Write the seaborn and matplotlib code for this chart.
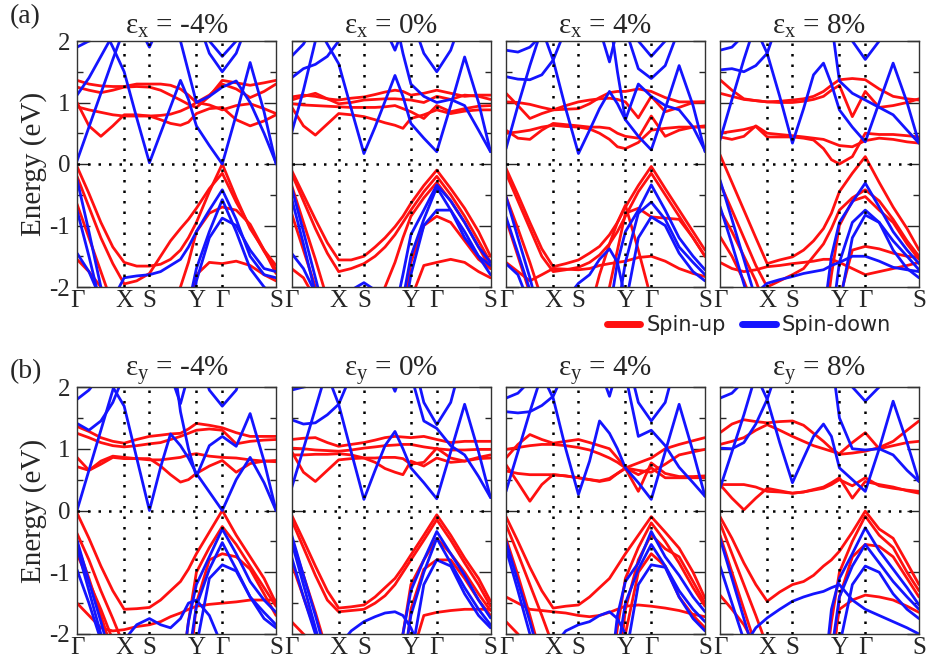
import numpy as np
import pandas as pd
import matplotlib
matplotlib.use("Agg")
import matplotlib.pyplot as plt
import seaborn as sns
from matplotlib.lines import Line2D

# ---------------- data ----------------
K = [0.0, 0.06, 0.12, 0.18, 0.237, 0.30, 0.364, 0.42, 0.47, 0.52, 0.56, 0.60,
     0.665, 0.73, 0.80, 0.87, 0.94, 1.0]
K_TICKS = [0.0, 0.237, 0.364, 0.60, 0.73, 1.0]
K_LABELS = ["Γ", "X", "S", "Y", "Γ", "S"]
STRAIN_A = ["-4%", "0%", "4%", "8%"]
STRAIN_B = ["-4%", "0%", "4%", "8%"]

UP_A1 = [
    [1.36, 1.30, 1.27, 1.26, 1.26, 1.30, 1.30, 1.30, 1.28, 1.22, 1.12, 1.00, 1.12, 1.30, 1.22, 1.08, 1.18, 1.30],
    [1.25, 1.20, 1.16, 1.20, 1.25, 1.26, 1.25, 1.20, 1.12, 1.04, 0.97, 0.92, 1.10, 1.36, 1.32, 1.28, 1.32, 1.36],
    [1.00, 0.62, 0.45, 0.62, 0.80, 0.80, 0.78, 0.72, 0.66, 0.63, 0.68, 0.82, 0.90, 0.92, 0.72, 0.62, 0.70, 0.80],
    [0.93, 0.88, 0.84, 0.80, 0.78, 0.78, 0.78, 0.79, 0.81, 0.86, 0.92, 1.00, 0.96, 0.88, 0.95, 0.98, 0.90, 0.82],
    [-0.04, -0.48, -0.95, -1.35, -1.60, -1.66, -1.66, -1.63, -1.55, -1.40, -1.20, -0.95, -0.45, 0.00, -0.55, -1.05, -1.40, -1.65],
    [-0.20, -0.70, -1.20, -1.62, -1.95, -1.90, -1.78, -1.50, -1.25, -1.05, -0.90, -0.72, -0.40, -0.15, -0.62, -1.02, -1.42, -1.72],
    [-0.65, -1.20, -1.75, -2.30, -2.80, -2.80, -2.80, -2.60, -2.30, -2.00, -1.60, -1.10, -0.80, -0.70, -0.75, -0.98, -1.40, -1.78],
    [-1.55, -1.75, -2.00, -2.40, -2.80, -2.80, -2.80, -2.80, -2.80, -2.80, -2.50, -1.80, -1.60, -1.62, -1.58, -1.65, -1.80, -1.90],
]
DN_A1 = [
    [0.05, 0.60, 1.15, 1.70, 2.20, 2.80, 2.80, 2.80, 2.80, 2.80, 2.80, 2.80, 2.80, 2.80, 2.80, 2.80, 2.80, 2.80],
    [2.80, 2.60, 2.30, 1.90, 1.50, 0.75, 0.02, 0.50, 0.93, 1.36, 1.05, 0.62, 0.30, 0.00, 0.80, 1.65, 0.85, 0.00],
    [1.12, 1.40, 1.75, 2.10, 2.50, 2.80, 2.80, 2.80, 2.50, 2.00, 1.50, 1.00, 1.10, 1.25, 1.35, 1.00, 0.50, 0.02],
    [2.80, 2.80, 2.80, 2.80, 2.80, 2.30, 1.90, 2.30, 2.80, 2.80, 2.80, 2.40, 1.80, 1.50, 1.80, 2.40, 2.80, 2.80],
    [1.90, 2.00, 2.20, 2.50, 2.80, 2.80, 2.80, 2.80, 2.80, 2.80, 2.80, 2.60, 2.00, 1.75, 2.00, 2.60, 2.80, 2.80],
    [-2.80, -2.80, -2.60, -2.20, -1.85, -1.82, -1.80, -1.75, -1.65, -1.55, -1.35, -1.10, -0.75, -0.42, -0.90, -1.50, -1.80, -1.85],
    [-2.80, -2.80, -2.80, -2.80, -2.80, -2.80, -2.80, -2.80, -2.80, -2.60, -2.30, -1.70, -1.10, -0.58, -1.10, -1.70, -2.00, -2.20],
    [-2.80, -2.80, -2.80, -2.80, -2.80, -2.80, -2.80, -2.80, -2.80, -2.80, -2.80, -1.90, -1.20, -0.88, -1.00, -1.40, -1.70, -1.75],
    [-0.25, -1.10, -2.00, -2.80, -2.80, -2.80, -2.80, -2.80, -2.80, -2.80, -2.80, -2.80, -2.80, -2.80, -2.80, -2.80, -2.80, -2.80],
    [-0.75, -1.50, -2.30, -2.80, -2.80, -2.80, -2.80, -2.80, -2.80, -2.80, -2.80, -2.80, -2.80, -2.80, -2.80, -2.80, -2.80, -2.80],
    [-1.45, -1.75, -2.20, -2.80, -2.80, -2.80, -2.80, -2.80, -2.80, -2.80, -2.80, -2.80, -2.80, -2.80, -2.80, -2.80, -2.80, -2.80],
]

UP_A2 = [
    [1.09, 1.12, 1.10, 1.06, 1.04, 1.07, 1.09, 1.13, 1.17, 1.20, 1.18, 1.12, 1.15, 1.20, 1.15, 1.10, 1.12, 1.12],
    [1.04, 1.10, 1.15, 1.06, 0.98, 1.00, 1.04, 1.05, 1.06, 1.06, 1.05, 1.04, 1.00, 1.10, 1.05, 1.12, 1.10, 1.05],
    [0.93, 0.62, 0.47, 0.65, 0.82, 0.80, 0.77, 0.72, 0.67, 0.63, 0.58, 0.74, 0.80, 0.88, 0.82, 0.86, 0.88, 0.88],
    [0.98, 0.96, 0.95, 0.94, 0.93, 0.92, 0.92, 0.92, 0.93, 0.95, 0.90, 0.85, 0.74, 0.95, 0.85, 0.90, 0.94, 0.95],
    [-0.10, -0.50, -0.90, -1.28, -1.56, -1.56, -1.50, -1.35, -1.20, -1.02, -0.85, -0.64, -0.35, -0.10, -0.40, -0.72, -1.10, -1.50],
    [-0.15, -0.60, -1.05, -1.45, -1.75, -1.70, -1.62, -1.50, -1.35, -1.15, -0.95, -0.75, -0.45, -0.20, -0.50, -0.85, -1.25, -1.60],
    [-0.34, -0.95, -1.55, -2.20, -2.80, -2.80, -2.80, -2.50, -2.00, -1.60, -1.20, -0.85, -0.55, -0.30, -0.60, -0.95, -1.35, -1.70],
    [-0.80, -1.40, -2.00, -2.60, -2.80, -2.80, -2.80, -2.80, -2.80, -2.80, -2.50, -1.60, -1.00, -0.85, -0.95, -1.25, -1.55, -1.70],
    [-1.70, -1.85, -2.20, -2.80, -2.80, -2.80, -2.80, -2.80, -2.80, -2.80, -2.80, -2.20, -1.65, -1.60, -1.55, -1.60, -1.75, -1.85],
]
DN_A2 = [
    [0.50, 1.20, 2.00, 2.80, 2.80, 2.80, 2.80, 2.80, 2.80, 2.80, 2.80, 2.80, 2.80, 2.80, 2.80, 2.80, 2.80, 2.80],
    [2.80, 2.60, 2.30, 1.95, 1.63, 0.90, 0.17, 0.60, 1.02, 1.44, 1.10, 0.66, 0.42, 0.20, 0.95, 1.74, 1.00, 0.20],
    [1.40, 1.55, 1.62, 1.75, 2.00, 2.40, 2.80, 2.80, 2.80, 2.40, 1.80, 1.30, 1.10, 1.00, 1.05, 0.95, 0.55, 0.20],
    [2.80, 2.80, 2.80, 2.80, 2.80, 2.80, 2.80, 2.80, 2.80, 2.80, 2.80, 2.40, 1.80, 1.50, 1.85, 2.50, 2.80, 2.80],
    [2.80, 2.80, 2.80, 2.80, 2.80, 2.80, 2.80, 2.80, 2.20, 1.85, 2.20, 2.80, 2.80, 2.80, 2.80, 2.80, 2.80, 2.80],
    [1.75, 1.95, 2.30, 2.80, 2.80, 2.80, 2.80, 2.80, 2.80, 2.80, 2.80, 2.80, 2.80, 2.80, 2.80, 2.80, 2.80, 2.80],
    [-2.80, -2.80, -2.80, -2.80, -2.80, -2.80, -2.80, -2.80, -2.80, -2.40, -1.80, -1.15, -0.75, -0.34, -0.60, -0.95, -1.35, -1.60],
    [-2.80, -2.80, -2.80, -2.80, -2.80, -2.80, -2.80, -2.80, -2.80, -2.80, -2.20, -1.50, -0.90, -0.38, -0.75, -1.20, -1.50, -1.65],
    [-2.80, -2.80, -2.80, -2.80, -2.80, -2.80, -2.80, -2.80, -2.80, -2.80, -2.60, -1.80, -1.00, -0.75, -0.75, -1.10, -1.50, -1.80],
    [-0.37, -1.10, -1.85, -2.60, -2.80, -2.80, -2.80, -2.80, -2.80, -2.80, -2.80, -2.80, -2.80, -2.80, -2.80, -2.80, -2.80, -2.80],
    [-0.55, -1.30, -2.10, -2.80, -2.80, -2.80, -2.80, -2.80, -2.80, -2.80, -2.80, -2.80, -2.80, -2.80, -2.80, -2.80, -2.80, -2.80],
    [-1.45, -1.70, -2.10, -2.80, -2.80, -2.80, -2.80, -2.80, -2.80, -2.80, -2.80, -2.80, -2.80, -2.80, -2.80, -2.80, -2.80, -2.80],
    [-2.80, -2.80, -2.80, -2.80, -2.30, -2.05, -1.93, -2.05, -2.40, -2.80, -2.80, -2.80, -2.80, -2.80, -2.80, -2.80, -2.80, -2.80],
]

UP_A3 = [
    [1.15, 0.95, 0.74, 0.82, 0.88, 0.89, 0.90, 0.98, 1.08, 1.16, 1.18, 1.18, 1.22, 1.18, 1.08, 1.01, 1.01, 1.01],
    [1.01, 1.00, 0.97, 0.92, 0.88, 0.95, 1.01, 1.04, 1.06, 1.07, 1.05, 1.01, 0.75, 1.10, 0.85, 0.92, 1.00, 1.01],
    [0.50, 0.52, 0.55, 0.60, 0.63, 0.61, 0.60, 0.57, 0.50, 0.40, 0.28, 0.25, 0.35, 0.55, 0.58, 0.60, 0.60, 0.60],
    [0.55, 0.42, 0.40, 0.55, 0.66, 0.64, 0.62, 0.60, 0.60, 0.58, 0.50, 0.45, 0.42, 0.78, 0.45, 0.55, 0.60, 0.62],
    [-0.07, -0.50, -0.95, -1.38, -1.67, -1.62, -1.56, -1.45, -1.34, -1.15, -0.95, -0.70, -0.35, -0.04, -0.40, -0.75, -1.10, -1.40],
    [-0.15, -0.60, -1.05, -1.50, -1.75, -1.72, -1.68, -1.60, -1.48, -1.30, -1.10, -0.85, -0.45, -0.15, -0.50, -0.85, -1.20, -1.50],
    [-0.53, -1.05, -1.60, -2.20, -2.80, -2.80, -2.80, -2.40, -1.80, -1.30, -0.95, -0.67, -1.40, -2.20, -2.80, -2.80, -2.80, -2.80],
    [-0.90, -1.50, -2.10, -2.80, -2.80, -2.80, -2.80, -2.80, -2.60, -2.00, -1.40, -0.80, -0.72, -0.86, -0.88, -0.90, -1.20, -1.50],
    [-1.60, -1.75, -1.90, -1.80, -1.70, -1.71, -1.72, -1.70, -1.65, -1.62, -1.60, -1.58, -1.52, -1.50, -1.58, -1.70, -1.78, -1.83],
]
DN_A3 = [
    [0.25, 0.95, 1.60, 2.20, 2.80, 2.80, 2.80, 2.80, 2.80, 2.80, 2.80, 2.80, 2.80, 2.80, 2.80, 2.80, 2.80, 2.80],
    [2.80, 2.80, 2.60, 2.20, 1.69, 0.90, 0.17, 0.55, 0.90, 1.18, 0.98, 0.72, 0.45, 0.23, 0.90, 1.60, 0.95, 0.20],
    [1.42, 1.38, 1.37, 1.45, 1.69, 2.20, 2.80, 2.80, 2.80, 2.80, 2.80, 2.20, 1.55, 1.39, 1.60, 2.20, 2.80, 2.80],
    [2.80, 2.80, 2.80, 2.80, 2.80, 2.80, 2.80, 2.80, 2.80, 2.40, 1.50, 0.72, 1.30, 1.10, 0.95, 0.88, 0.60, 0.22],
    [1.85, 1.82, 1.90, 2.10, 2.40, 2.80, 2.80, 2.80, 2.80, 2.80, 2.80, 2.80, 2.80, 2.80, 2.80, 2.80, 2.80, 2.80],
    [2.80, 2.80, 2.80, 2.80, 2.80, 2.80, 2.80, 2.80, 2.20, 1.66, 2.20, 2.80, 2.80, 2.80, 2.80, 2.80, 2.80, 2.80],
    [2.80, 2.80, 2.80, 2.80, 2.80, 2.80, 2.80, 2.80, 2.80, 2.80, 2.80, 2.80, 2.00, 1.75, 2.00, 2.80, 2.80, 2.80],
    [-2.80, -2.80, -2.80, -2.80, -2.80, -2.80, -2.80, -2.80, -2.80, -2.40, -1.60, -1.10, -0.75, -0.34, -0.75, -1.20, -1.50, -1.72],
    [-2.80, -2.80, -2.80, -2.80, -2.80, -2.80, -2.80, -2.80, -2.80, -2.80, -2.40, -1.60, -0.80, -0.62, -0.90, -1.35, -1.60, -1.80],
    [-2.80, -2.80, -2.80, -2.80, -2.80, -2.80, -2.80, -2.80, -2.80, -2.80, -2.80, -2.30, -1.20, -0.86, -1.00, -1.45, -1.75, -1.90],
    [-0.53, -1.20, -1.85, -2.60, -2.80, -2.80, -2.80, -2.80, -2.80, -2.80, -2.80, -2.80, -2.80, -2.80, -2.80, -2.80, -2.80, -2.80],
    [-0.86, -1.45, -2.05, -2.80, -2.80, -2.80, -2.80, -2.80, -2.80, -2.80, -2.80, -2.80, -2.80, -2.80, -2.80, -2.80, -2.80, -2.80],
    [-1.62, -1.80, -2.30, -2.80, -2.80, -2.20, -1.94, -1.80, -1.55, -1.38, -1.60, -2.20, -2.80, -2.80, -2.80, -2.80, -2.80, -2.80],
]

UP_A4 = [
    [1.37, 1.20, 1.06, 1.03, 1.01, 1.02, 1.04, 1.06, 1.10, 1.18, 1.28, 1.37, 1.39, 1.37, 1.22, 1.10, 1.06, 1.04],
    [1.15, 1.10, 1.05, 1.03, 1.01, 1.00, 1.00, 1.02, 1.05, 1.10, 1.20, 1.28, 0.77, 1.18, 0.92, 0.95, 1.00, 1.06],
    [0.50, 0.53, 0.56, 0.61, 0.44, 0.44, 0.44, 0.42, 0.39, 0.25, 0.07, 0.00, 0.12, 0.50, 0.48, 0.48, 0.46, 0.44],
    [0.44, 0.40, 0.45, 0.62, 0.50, 0.48, 0.46, 0.44, 0.42, 0.40, 0.35, 0.30, 0.28, 0.38, 0.42, 0.40, 0.36, 0.34],
    [0.15, -0.30, -0.75, -1.20, -1.62, -1.56, -1.51, -1.40, -1.25, -1.05, -0.80, -0.45, -0.15, 0.12, -0.30, -0.70, -1.05, -1.40],
    [-0.31, -0.75, -1.20, -1.65, -2.00, -1.90, -1.80, -1.70, -1.50, -1.30, -1.05, -0.75, -0.55, -0.42, -0.60, -0.90, -1.25, -1.50],
    [-0.75, -1.10, -1.50, -1.90, -2.40, -2.80, -2.80, -2.80, -2.80, -2.80, -1.80, -1.00, -0.60, -0.53, -0.75, -0.95, -1.30, -1.55],
    [-1.18, -1.50, -1.90, -2.40, -2.80, -2.80, -2.80, -2.80, -2.80, -2.80, -2.80, -2.20, -1.40, -1.34, -1.38, -1.45, -1.50, -1.52],
    [-1.60, -1.70, -1.75, -1.72, -1.67, -1.65, -1.62, -1.60, -1.58, -1.55, -1.55, -1.60, -1.70, -1.80, -1.75, -1.70, -1.65, -1.60],
]
DN_A4 = [
    [0.39, 1.05, 1.70, 2.30, 2.80, 2.80, 2.80, 2.80, 2.80, 2.80, 2.80, 2.80, 2.80, 2.80, 2.80, 2.80, 2.80, 2.80],
    [2.80, 2.80, 2.60, 2.20, 1.80, 1.10, 0.34, 0.90, 1.45, 1.64, 1.30, 0.88, 0.60, 0.36, 1.00, 1.64, 1.00, 0.34],
    [1.53, 1.55, 1.50, 1.60, 1.80, 2.40, 2.80, 2.80, 2.80, 2.80, 2.30, 1.35, 1.15, 1.04, 0.92, 0.80, 0.55, 0.34],
    [1.85, 1.90, 2.10, 2.40, 2.80, 2.80, 2.80, 2.80, 2.80, 2.80, 2.80, 2.80, 2.80, 2.80, 2.80, 2.80, 2.80, 2.80],
    [2.80, 2.80, 2.80, 2.80, 2.80, 2.80, 2.80, 2.80, 2.80, 2.80, 2.80, 2.80, 2.00, 1.70, 2.00, 2.80, 2.80, 2.80],
    [-2.80, -2.80, -2.80, -2.80, -2.80, -2.80, -2.80, -2.80, -2.80, -2.50, -1.50, -0.95, -0.62, -0.31, -0.70, -1.10, -1.40, -1.62],
    [-2.80, -2.80, -2.80, -2.80, -2.80, -2.80, -2.80, -2.80, -2.80, -2.80, -2.60, -1.60, -0.95, -0.75, -0.95, -1.25, -1.50, -1.72],
    [-2.80, -2.80, -2.80, -2.80, -2.80, -2.80, -2.80, -2.80, -2.80, -2.80, -2.80, -2.30, -1.20, -0.83, -0.95, -1.40, -1.70, -1.85],
    [-0.26, -0.90, -1.55, -2.20, -2.80, -2.80, -2.80, -2.80, -2.80, -2.80, -2.80, -2.80, -2.80, -2.80, -2.80, -2.80, -2.80, -2.80],
    [-0.69, -1.30, -1.95, -2.60, -2.80, -2.80, -2.80, -2.80, -2.80, -2.80, -2.80, -2.80, -2.80, -2.80, -2.80, -2.80, -2.80, -2.80],
    [-2.80, -2.80, -2.40, -2.10, -1.94, -1.88, -1.83, -1.78, -1.75, -1.72, -1.65, -1.60, -1.50, -1.50, -1.58, -1.68, -1.72, -1.75],
]

UP_B1 = [
    [1.36, 1.28, 1.18, 1.12, 1.09, 1.15, 1.20, 1.22, 1.24, 1.25, 1.32, 1.41, 1.38, 1.34, 1.26, 1.20, 1.20, 1.20],
    [1.25, 1.18, 1.10, 1.05, 1.03, 1.05, 1.08, 1.10, 1.15, 1.20, 1.25, 1.30, 1.32, 1.30, 1.08, 1.12, 1.14, 1.15],
    [0.86, 0.65, 0.75, 0.86, 0.84, 0.84, 0.84, 0.72, 0.58, 0.46, 0.50, 0.60, 0.72, 0.81, 0.62, 0.76, 0.80, 0.81],
    [0.71, 0.65, 0.80, 0.88, 0.86, 0.84, 0.82, 0.82, 0.84, 0.86, 0.90, 0.92, 0.88, 0.86, 0.85, 0.82, 0.80, 0.79],
    [-0.04, -0.45, -0.90, -1.30, -1.60, -1.59, -1.57, -1.45, -1.30, -1.15, -0.95, -0.70, -0.35, 0.00, -0.40, -0.75, -1.10, -1.50],
    [-0.37, -0.80, -1.30, -1.75, -2.20, -2.80, -2.80, -2.80, -2.80, -2.80, -1.80, -1.00, -0.60, -0.26, -0.55, -0.90, -1.25, -1.55],
    [-0.70, -1.15, -1.60, -2.10, -2.80, -2.80, -2.80, -2.80, -2.80, -2.80, -2.80, -1.50, -0.80, -0.70, -0.75, -0.95, -1.35, -1.70],
    [-1.50, -1.70, -1.90, -1.95, -1.93, -1.88, -1.85, -1.80, -1.72, -1.66, -1.60, -1.55, -1.52, -1.50, -1.48, -1.45, -1.45, -1.45],
    [-0.55, -1.10, -1.70, -2.30, -2.80, -2.80, -2.80, -2.80, -2.80, -2.80, -2.80, -2.80, -2.80, -2.80, -2.80, -2.80, -2.80, -2.80],
]
DN_B1 = [
    [0.00, 0.65, 1.30, 1.95, 2.60, 2.80, 2.80, 2.80, 2.80, 2.80, 2.80, 2.80, 2.80, 2.80, 2.80, 2.80, 2.80, 2.80],
    [2.80, 2.70, 2.40, 2.00, 1.69, 0.85, 0.00, 0.70, 1.24, 1.05, 0.85, 0.60, 0.30, 0.00, 0.50, 0.86, 0.45, 0.00],
    [1.41, 1.30, 1.45, 1.75, 2.20, 2.80, 2.80, 2.80, 2.80, 1.60, 1.00, 0.55, 1.05, 1.20, 1.04, 1.57, 0.80, 0.00],
    [2.80, 2.80, 2.80, 2.80, 2.80, 2.80, 2.80, 2.80, 2.20, 1.73, 2.20, 2.80, 2.80, 2.80, 2.80, 2.80, 2.80, 2.80],
    [2.80, 2.80, 2.80, 2.80, 2.80, 2.80, 2.80, 2.80, 2.80, 2.80, 2.80, 2.60, 1.95, 1.69, 1.95, 2.60, 2.80, 2.80],
    [1.80, 1.95, 2.20, 2.60, 2.80, 2.80, 2.80, 2.80, 2.80, 2.80, 2.80, 2.80, 2.80, 2.80, 2.80, 2.80, 2.80, 2.80],
    [-2.80, -2.80, -2.80, -2.80, -2.80, -2.80, -2.80, -2.80, -2.80, -2.80, -1.80, -1.20, -0.75, -0.30, -0.70, -1.15, -1.45, -1.65],
    [-2.80, -2.80, -2.80, -2.80, -2.80, -2.80, -2.80, -2.80, -2.80, -2.80, -2.40, -1.55, -0.95, -0.52, -0.95, -1.40, -1.65, -1.85],
    [-2.80, -2.80, -2.80, -2.80, -2.80, -2.80, -2.80, -2.80, -2.80, -2.80, -2.80, -2.20, -1.10, -0.88, -0.98, -1.40, -1.75, -1.90],
    [-0.48, -1.15, -1.80, -2.50, -2.80, -2.80, -2.80, -2.80, -2.80, -2.80, -2.80, -2.80, -2.80, -2.80, -2.80, -2.80, -2.80, -2.80],
    [-0.60, -1.30, -2.00, -2.80, -2.80, -2.80, -2.80, -2.80, -2.80, -2.80, -2.80, -2.80, -2.80, -2.80, -2.80, -2.80, -2.80, -2.80],
    [-0.96, -1.50, -2.10, -2.80, -2.80, -2.80, -2.80, -2.80, -2.80, -2.80, -2.80, -2.80, -2.80, -2.80, -2.80, -2.80, -2.80, -2.80],
    [-2.80, -2.80, -2.80, -2.50, -2.10, -1.85, -1.75, -1.85, -1.90, -1.75, -1.50, -1.45, -1.70, -2.20, -2.80, -2.80, -2.80, -2.80],
]

UP_B2 = [
    [1.15, 1.17, 1.18, 1.10, 1.04, 1.07, 1.10, 1.14, 1.18, 1.20, 1.19, 1.18, 1.20, 1.15, 1.10, 1.12, 1.12, 1.12],
    [1.01, 1.00, 0.98, 0.97, 0.96, 0.98, 1.01, 1.03, 1.05, 1.06, 1.07, 1.07, 1.03, 1.00, 0.98, 0.98, 0.99, 0.99],
    [0.96, 0.62, 0.47, 0.65, 0.82, 0.84, 0.85, 0.78, 0.68, 0.62, 0.58, 0.80, 0.72, 0.85, 0.78, 0.80, 0.84, 0.85],
    [0.90, 0.90, 0.91, 0.91, 0.92, 0.90, 0.85, 0.85, 0.86, 0.86, 0.84, 0.75, 0.78, 1.01, 0.85, 0.80, 0.86, 0.90],
    [-0.07, -0.48, -0.90, -1.30, -1.58, -1.56, -1.53, -1.40, -1.25, -1.10, -0.92, -0.72, -0.40, -0.07, -0.40, -0.77, -1.10, -1.47],
    [-0.15, -0.60, -1.05, -1.45, -1.64, -1.62, -1.60, -1.50, -1.38, -1.20, -1.00, -0.80, -0.48, -0.15, -0.48, -0.85, -1.20, -1.55],
    [-0.45, -1.05, -1.65, -2.30, -2.80, -2.80, -2.80, -2.80, -2.80, -2.80, -2.00, -1.20, -0.80, -0.45, -0.70, -1.00, -1.35, -1.62],
    [-0.85, -1.40, -1.95, -2.60, -2.80, -2.80, -2.80, -2.80, -2.80, -2.80, -2.80, -1.60, -0.95, -0.80, -0.80, -1.10, -1.45, -1.70],
    [-1.80, -2.00, -2.30, -2.80, -2.80, -2.80, -2.80, -2.80, -2.80, -2.80, -2.80, -2.40, -1.70, -1.65, -1.62, -1.60, -1.60, -1.60],
]
DN_B2 = [
    [0.36, 1.00, 1.65, 2.30, 2.80, 2.80, 2.80, 2.80, 2.80, 2.80, 2.80, 2.80, 2.80, 2.80, 2.80, 2.80, 2.80, 2.80],
    [2.80, 2.80, 2.60, 2.20, 1.72, 0.95, 0.18, 0.65, 1.05, 1.28, 1.00, 0.69, 0.45, 0.19, 0.95, 1.72, 0.95, 0.21],
    [1.47, 1.40, 1.42, 1.55, 1.72, 2.20, 2.80, 2.80, 2.80, 2.80, 2.80, 2.20, 1.45, 1.33, 1.05, 0.90, 0.55, 0.21],
    [1.95, 2.00, 2.20, 2.60, 2.80, 2.80, 2.80, 2.80, 2.80, 2.80, 2.80, 2.80, 2.80, 2.80, 2.80, 2.80, 2.80, 2.80],
    [2.80, 2.80, 2.80, 2.80, 2.80, 2.80, 2.80, 2.80, 2.30, 1.93, 2.30, 2.80, 2.80, 2.80, 2.80, 2.80, 2.80, 2.80],
    [2.80, 2.80, 2.80, 2.80, 2.80, 2.80, 2.80, 2.80, 2.80, 2.80, 2.80, 2.60, 1.75, 1.39, 1.75, 2.60, 2.80, 2.80],
    [-2.80, -2.80, -2.80, -2.80, -2.80, -2.80, -2.80, -2.80, -2.80, -2.80, -2.00, -1.30, -0.80, -0.34, -0.70, -1.05, -1.45, -1.74],
    [-2.80, -2.80, -2.80, -2.80, -2.80, -2.80, -2.80, -2.80, -2.80, -2.80, -2.50, -1.70, -1.00, -0.45, -0.85, -1.25, -1.60, -1.85],
    [-2.80, -2.80, -2.80, -2.80, -2.80, -2.80, -2.80, -2.80, -2.80, -2.80, -2.80, -2.40, -1.20, -0.80, -0.90, -1.35, -1.70, -1.90],
    [-0.39, -1.05, -1.70, -2.40, -2.80, -2.80, -2.80, -2.80, -2.80, -2.80, -2.80, -2.80, -2.80, -2.80, -2.80, -2.80, -2.80, -2.80],
    [-0.50, -1.20, -1.90, -2.60, -2.80, -2.80, -2.80, -2.80, -2.80, -2.80, -2.80, -2.80, -2.80, -2.80, -2.80, -2.80, -2.80, -2.80],
    [-0.75, -1.40, -2.00, -2.80, -2.80, -2.80, -2.80, -2.80, -2.80, -2.80, -2.80, -2.80, -2.80, -2.80, -2.80, -2.80, -2.80, -2.80],
    [-2.80, -2.80, -2.80, -2.80, -2.20, -1.95, -1.80, -1.72, -1.66, -1.64, -1.70, -1.90, -2.40, -2.80, -2.80, -2.80, -2.80, -2.80],
]

UP_B3 = [
    [0.85, 1.07, 1.23, 1.15, 1.09, 1.12, 1.15, 1.10, 1.05, 1.00, 0.85, 0.69, 0.77, 0.85, 1.00, 1.07, 1.13, 1.18],
    [0.99, 1.02, 1.05, 1.07, 1.07, 1.05, 1.02, 0.98, 0.92, 0.85, 0.78, 0.69, 0.65, 0.62, 0.75, 0.90, 0.95, 0.99],
    [0.74, 0.45, 0.15, 0.42, 0.58, 0.56, 0.53, 0.50, 0.47, 0.50, 0.60, 0.69, 0.58, 0.69, 0.53, 0.53, 0.53, 0.53],
    [0.64, 0.60, 0.58, 0.58, 0.58, 0.56, 0.53, 0.50, 0.48, 0.52, 0.60, 0.68, 0.31, 0.77, 0.60, 0.55, 0.55, 0.56],
    [-0.10, -0.50, -0.92, -1.30, -1.58, -1.55, -1.53, -1.40, -1.25, -1.10, -0.90, -0.70, -0.40, -0.10, -0.35, -0.61, -1.00, -1.42],
    [-0.23, -0.70, -1.20, -1.70, -2.20, -2.80, -2.80, -2.80, -2.80, -2.80, -1.90, -1.10, -0.60, -0.20, -0.50, -0.85, -1.25, -1.55],
    [-0.45, -1.05, -1.70, -2.40, -2.80, -2.80, -2.80, -2.80, -2.80, -2.80, -2.80, -1.60, -0.80, -0.39, -0.62, -0.75, -1.15, -1.50],
    [-1.40, -1.50, -1.60, -1.62, -1.64, -1.66, -1.70, -1.72, -1.70, -1.65, -1.60, -1.55, -1.53, -1.55, -1.58, -1.62, -1.68, -1.72],
    [-1.80, -2.00, -2.40, -2.80, -2.80, -2.80, -2.80, -2.80, -2.80, -2.80, -2.80, -2.00, -1.00, -0.70, -0.90, -1.40, -1.70, -1.90],
]
DN_B3 = [
    [0.31, 0.95, 1.60, 2.20, 2.80, 2.80, 2.80, 2.80, 2.80, 2.80, 2.80, 2.80, 2.80, 2.80, 2.80, 2.80, 2.80, 2.80],
    [2.80, 2.80, 2.60, 2.20, 1.82, 1.00, 0.26, 0.80, 1.45, 1.25, 1.00, 0.69, 0.45, 0.18, 0.95, 1.72, 0.95, 0.23],
    [1.60, 1.58, 1.60, 1.70, 1.85, 2.30, 2.80, 2.80, 2.80, 2.80, 2.80, 2.20, 1.20, 1.30, 1.05, 0.70, 0.45, 0.23],
    [1.82, 1.90, 2.10, 2.50, 2.80, 2.80, 2.80, 2.80, 2.80, 2.80, 2.80, 2.80, 2.80, 2.80, 2.80, 2.80, 2.80, 2.80],
    [2.80, 2.80, 2.80, 2.80, 2.80, 2.80, 2.80, 2.80, 2.80, 2.80, 2.80, 2.60, 1.75, 1.45, 1.75, 2.60, 2.80, 2.80],
    [2.80, 2.80, 2.80, 2.80, 2.80, 2.80, 2.80, 2.80, 2.30, 1.85, 2.30, 2.80, 2.80, 2.80, 2.80, 2.80, 2.80, 2.80],
    [-2.80, -2.80, -2.80, -2.80, -2.80, -2.80, -2.80, -2.80, -2.80, -2.80, -1.70, -1.15, -0.85, -0.34, -0.75, -1.05, -1.40, -1.64],
    [-2.80, -2.80, -2.80, -2.80, -2.80, -2.80, -2.80, -2.80, -2.80, -2.80, -2.30, -1.50, -0.95, -0.55, -0.90, -1.30, -1.60, -1.80],
    [-2.80, -2.80, -2.80, -2.80, -2.80, -2.80, -2.80, -2.80, -2.80, -2.80, -2.80, -2.40, -1.20, -0.88, -0.92, -1.40, -1.75, -1.95],
    [-0.50, -1.15, -1.80, -2.50, -2.80, -2.80, -2.80, -2.80, -2.80, -2.80, -2.80, -2.80, -2.80, -2.80, -2.80, -2.80, -2.80, -2.80],
    [-0.62, -1.30, -2.00, -2.70, -2.80, -2.80, -2.80, -2.80, -2.80, -2.80, -2.80, -2.80, -2.80, -2.80, -2.80, -2.80, -2.80, -2.80],
    [-2.80, -2.80, -2.80, -2.60, -2.20, -1.95, -1.85, -1.80, -1.70, -1.64, -1.75, -2.00, -2.60, -2.80, -2.80, -2.80, -2.80, -2.80],
]

UP_B4 = [
    [1.26, 1.40, 1.47, 1.44, 1.42, 1.44, 1.45, 1.38, 1.25, 1.12, 1.00, 0.91, 0.93, 0.96, 1.02, 1.12, 1.30, 1.45],
    [1.07, 1.12, 1.18, 1.30, 1.39, 1.30, 1.20, 1.12, 1.05, 1.00, 0.96, 0.92, 1.10, 1.26, 1.00, 1.05, 1.10, 1.12],
    [0.42, 0.42, 0.42, 0.38, 0.31, 0.30, 0.28, 0.30, 0.34, 0.38, 0.45, 0.53, 0.20, 0.47, 0.42, 0.38, 0.32, 0.28],
    [0.42, 0.20, 0.01, 0.20, 0.36, 0.32, 0.28, 0.30, 0.33, 0.36, 0.42, 0.50, 0.40, 0.53, 0.40, 0.36, 0.33, 0.31],
    [-0.10, -0.45, -0.85, -1.20, -1.47, -1.32, -1.20, -1.15, -1.05, -0.90, -0.80, -0.66, -0.35, -0.01, -0.30, -0.45, -0.85, -1.20],
    [-0.20, -0.70, -1.20, -1.70, -2.20, -2.80, -2.80, -2.80, -2.80, -2.80, -1.80, -1.00, -0.50, -0.09, -0.40, -0.60, -1.00, -1.30],
    [-0.40, -1.00, -1.60, -2.20, -2.80, -2.80, -2.80, -2.80, -2.80, -2.80, -2.80, -1.40, -0.75, -0.55, -0.58, -0.75, -1.10, -1.40],
    [-1.37, -1.60, -1.85, -2.20, -2.80, -2.80, -2.80, -2.80, -2.80, -2.80, -2.80, -2.80, -2.80, -2.80, -2.80, -2.80, -2.80, -2.80],
    [-2.80, -2.80, -2.80, -2.80, -2.80, -2.80, -2.80, -2.80, -2.80, -2.80, -2.40, -1.60, -1.45, -1.37, -1.40, -1.45, -1.55, -1.65],
]
DN_B4 = [
    [0.36, 0.95, 1.55, 2.20, 2.80, 2.80, 2.80, 2.80, 2.80, 2.80, 2.80, 2.80, 2.80, 2.80, 2.80, 2.80, 2.80, 2.80],
    [2.80, 2.80, 2.60, 2.20, 1.80, 1.10, 0.45, 0.85, 1.20, 1.40, 1.20, 0.69, 0.50, 0.31, 1.00, 1.77, 1.10, 0.47],
    [1.01, 1.00, 1.10, 1.40, 1.80, 2.40, 2.80, 2.80, 2.80, 2.80, 2.50, 1.50, 1.00, 0.98, 1.00, 0.90, 0.65, 0.47],
    [1.82, 1.90, 2.10, 2.50, 2.80, 2.80, 2.80, 2.80, 2.80, 2.80, 2.80, 2.80, 2.80, 2.80, 2.80, 2.80, 2.80, 2.80],
    [2.80, 2.80, 2.80, 2.80, 2.80, 2.80, 2.80, 2.80, 2.80, 2.80, 2.80, 2.60, 2.00, 1.77, 2.00, 2.60, 2.80, 2.80],
    [-2.80, -2.80, -2.80, -2.80, -2.80, -2.80, -2.80, -2.80, -2.80, -2.80, -1.60, -1.10, -0.70, -0.28, -0.65, -0.95, -1.25, -1.53],
    [-2.80, -2.80, -2.80, -2.80, -2.80, -2.80, -2.80, -2.80, -2.80, -2.80, -2.30, -1.40, -0.90, -0.55, -0.85, -1.15, -1.40, -1.60],
    [-2.80, -2.80, -2.80, -2.80, -2.80, -2.80, -2.80, -2.80, -2.80, -2.80, -2.80, -2.20, -1.20, -0.90, -1.00, -1.35, -1.60, -1.75],
    [-0.45, -1.10, -1.75, -2.40, -2.80, -2.80, -2.80, -2.80, -2.80, -2.80, -2.80, -2.80, -2.80, -2.80, -2.80, -2.80, -2.80, -2.80],
    [-0.90, -1.50, -2.10, -2.80, -2.80, -2.80, -2.80, -2.80, -2.80, -2.80, -2.80, -2.80, -2.80, -2.80, -2.80, -2.80, -2.80, -2.80],
    [-2.80, -2.80, -2.20, -1.90, -1.74, -1.60, -1.47, -1.40, -1.35, -1.31, -1.25, -1.20, -1.45, -1.60, -1.70, -1.80, -1.90, -2.00],
]

PANELS_A = [(UP_A1, DN_A1), (UP_A2, DN_A2), (UP_A3, DN_A3), (UP_A4, DN_A4)]
PANELS_B = [(UP_B1, DN_B1), (UP_B2, DN_B2), (UP_B3, DN_B3), (UP_B4, DN_B4)]

# ---------------- style ----------------
sns.set_style("ticks")
plt.rcParams["font.family"] = ["Liberation Serif", "DejaVu Serif"]
plt.rcParams["mathtext.fontset"] = "custom"
plt.rcParams["mathtext.rm"] = "Liberation Serif"
plt.rcParams["mathtext.it"] = "Liberation Serif:italic"
plt.rcParams["axes.unicode_minus"] = False
plt.rcParams["axes.linewidth"] = 1.0
plt.rcParams["axes.edgecolor"] = "#333333"

RED = "#ff1010"
BLUE = "#1414ff"


def panel_frame(up, dn):
    rows = []
    for i, band in enumerate(up):
        for k, e in zip(K, band):
            rows.append(("up", f"u{i}", k, e))
    for i, band in enumerate(dn):
        for k, e in zip(K, band):
            rows.append(("down", f"d{i}", k, e))
    return pd.DataFrame(rows, columns=["spin", "band", "k", "E"])


fig = plt.figure(figsize=(9.3, 6.63), dpi=100)
lefts = [77, 291.5, 506, 720]
W = 199
rows_px = [(41, 287), (387, 634)]
row_titles = [("x", STRAIN_A, PANELS_A, "(a)", 17), ("y", STRAIN_B, PANELS_B, "(b)", 372)]

for r, (sub, strains, panels, tag, tag_y) in enumerate(row_titles):
    top, bot = rows_px[r]
    for c in range(4):
        ax = fig.add_axes([lefts[c] / 930, 1 - bot / 663, W / 930, (bot - top) / 663])
        up, dn = panels[c]
        df = panel_frame(up, dn)
        sns.lineplot(data=df, x="k", y="E", hue="spin", units="band",
                     estimator=None, sort=False, palette={"up": RED, "down": BLUE},
                     hue_order=["up", "down"], linewidth=2.0, legend=False, ax=ax)
        ax.set_xlim(0, 1)
        ax.set_ylim(-2, 2)
        for kk in K_TICKS[1:-1]:
            ax.axvline(kk, color="black", ls=(0, (1, 3.2)), lw=1.8, zorder=6)
        ax.axhline(0, color="black", ls=(0, (1, 3.2)), lw=1.8, zorder=6)
        ax.set_xticks(K_TICKS)
        ax.set_xticklabels(K_LABELS)
        ax.tick_params(axis="x", length=0, pad=2, labelsize=18)
        ax.set_yticks([-2, -1, 0, 1, 2])
        ax.set_yticks([-1.5, -0.5, 0.5, 1.5], minor=True)
        ax.tick_params(axis="y", which="both", direction="in", left=True, right=True,
                       labelsize=18, pad=5)
        ax.tick_params(axis="y", which="major", length=9, width=1)
        ax.tick_params(axis="y", which="minor", length=4, width=1)
        ax.set_xlabel("")
        if c == 0:
            ax.set_ylabel("Energy (eV)", fontsize=21, labelpad=2)
        else:
            ax.set_ylabel("")
            ax.tick_params(axis="y", labelleft=False)
        ax.set_title("ε$_{\\mathrm{%s}}$ = %s" % (sub, strains[c]), fontsize=21, pad=5)
    fig.text(10 / 930, 1 - tag_y / 663, tag, fontsize=20, va="center", ha="left")

handles = [Line2D([], [], color=RED, lw=5, label="Spin-up"),
           Line2D([], [], color=BLUE, lw=5, label="Spin-down")]
fig.legend(handles=handles, loc="center", bbox_to_anchor=(749 / 930, 1 - 325 / 663),
           ncol=2, frameon=False, handlelength=1.6, handletextpad=0.3,
           columnspacing=0.8, prop={"family": "DejaVu Sans", "size": 15})

fig.savefig("out.png", dpi=100)
